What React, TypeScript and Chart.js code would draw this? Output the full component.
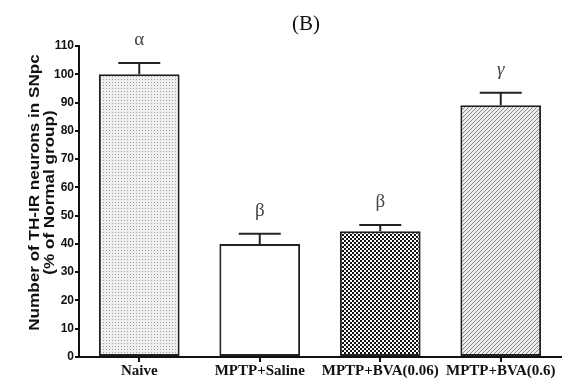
import React, { useEffect, useRef } from "react";
import { Chart, registerables } from "chart.js";

Chart.register(...registerables);

const categories = ["Naive", "MPTP+Saline", "MPTP+BVA(0.06)", "MPTP+BVA(0.6)"];
const values = [100, 40, 44.5, 89];
const errors = [4, 3.6, 2.2, 4.5];
const sigLabels = ["α", "β", "β", "γ"];
const yTitleLines = ["Number of TH-IR neurons in SNpc", "(% of Normal group)"];
const chartTitle = "(B)";

function makePattern(kind: string): CanvasPattern | string {
  const c = document.createElement("canvas");
  const ctx = c.getContext("2d")!;
  if (kind === "dots") {
    c.width = 3; c.height = 3;
    ctx.fillStyle = "#efefef"; ctx.fillRect(0, 0, 3, 3);
    ctx.fillStyle = "#a0a0a0"; ctx.fillRect(1, 1, 1, 1);
  } else if (kind === "checker") {
    c.width = 4; c.height = 4;
    ctx.fillStyle = "#ffffff"; ctx.fillRect(0, 0, 4, 4);
    ctx.fillStyle = "#111111"; ctx.fillRect(0, 0, 2, 2); ctx.fillRect(2, 2, 2, 2);
  } else if (kind === "hatch") {
    c.width = 4; c.height = 4;
    ctx.fillStyle = "#ececec"; ctx.fillRect(0, 0, 4, 4);
    ctx.fillStyle = "#8a8a8a";
    for (let i = 0; i < 4; i++) ctx.fillRect(i, 3 - i, 1, 1);
  } else {
    return "#ffffff";
  }
  return ctx.createPattern(c, "repeat")!;
}

const overlay = {
  id: "overlay",
  afterDatasetsDraw(chart: any) {
    const { ctx, scales } = chart;
    const meta = chart.getDatasetMeta(0);
    const y = scales.y;
    ctx.save();
    ctx.strokeStyle = "#222";
    ctx.lineWidth = 2;
    meta.data.forEach((bar: any, i: number) => {
      const x = bar.x;
      const yTop = y.getPixelForValue(values[i]);
      const yErr = y.getPixelForValue(values[i] + errors[i]);
      ctx.beginPath();
      ctx.moveTo(x, yTop);
      ctx.lineTo(x, yErr);
      ctx.moveTo(x - 21, yErr);
      ctx.lineTo(x + 21, yErr);
      ctx.stroke();
      ctx.fillStyle = "#444";
      ctx.font = (i === 3 ? "italic " : "") + "19px 'Liberation Serif'";
      ctx.textAlign = "center";
      ctx.textBaseline = "middle";
      ctx.fillText(sigLabels[i], x, yErr - 23);
    });
    // title
    ctx.fillStyle = "#111";
    ctx.font = "21px 'Liberation Serif'";
    ctx.textAlign = "center";
    ctx.textBaseline = "middle";
    ctx.fillText(chartTitle, 306, 24);
    // y title (condensed across, stretched along the text)
    const cy = (chart.chartArea.top + chart.chartArea.bottom) / 2 - 9;
    ctx.translate(0, cy);
    ctx.rotate(-Math.PI / 2);
    ctx.scale(1.14, 1);
    ctx.font = "bold 15px 'Liberation Sans'";
    ctx.fillStyle = "#111";
    ctx.fillText(yTitleLines[0], 0, 35);
    ctx.fillText(yTitleLines[1], 0, 50);
    ctx.restore();
  },
};

export default function App() {
  const ref = useRef<HTMLCanvasElement>(null);
  useEffect(() => {
    const patterns = [makePattern("dots"), makePattern("white"), makePattern("checker"), makePattern("hatch")];
    const chart = new Chart(ref.current!, {
      type: "bar",
      data: {
        labels: categories,
        datasets: [
          {
            data: values,
            backgroundColor: patterns as any,
            borderColor: "#222",
            borderWidth: 2,
            borderSkipped: false,
            categoryPercentage: 1,
            barPercentage: 0.67,
          },
        ],
      },
      options: {
        animation: false,
        responsive: false,
        layout: { padding: { top: 46, right: 2, left: 0, bottom: 0 } },
        plugins: { legend: { display: false }, tooltip: { enabled: false }, title: { display: false } },
        scales: {
          x: {
            offset: true,
            grid: { display: true, drawOnChartArea: false, drawTicks: true, tickLength: 5, color: "#111", lineWidth: 2, offset: false },
            border: { display: true, color: "#111", width: 2 },
            ticks: { color: "#111", font: { family: "'Liberation Serif'", size: 15, weight: "bold" }, padding: 0, maxRotation: 0 },
            afterFit: (s: any) => { s.height = 24; },
          },
          y: {
            min: 0,
            max: 110,
            ticks: { stepSize: 10, color: "#111", font: { family: "'Liberation Sans'", size: 12, weight: "bold" }, padding: 1 },
            grid: { display: true, drawOnChartArea: false, drawTicks: true, tickLength: 4, color: "#111", lineWidth: 2 },
            border: { display: true, color: "#111", width: 2 },
            afterFit: (s: any) => { s.width = 79; },
          },
        },
      },
      plugins: [overlay],
    });
    return () => chart.destroy();
  }, []);
  return (
    <div style={{ position: "absolute", left: 0, top: 0, width: 563, height: 381, background: "#fff" }}>
      <canvas ref={ref} width={563} height={381} />
    </div>
  );
}
